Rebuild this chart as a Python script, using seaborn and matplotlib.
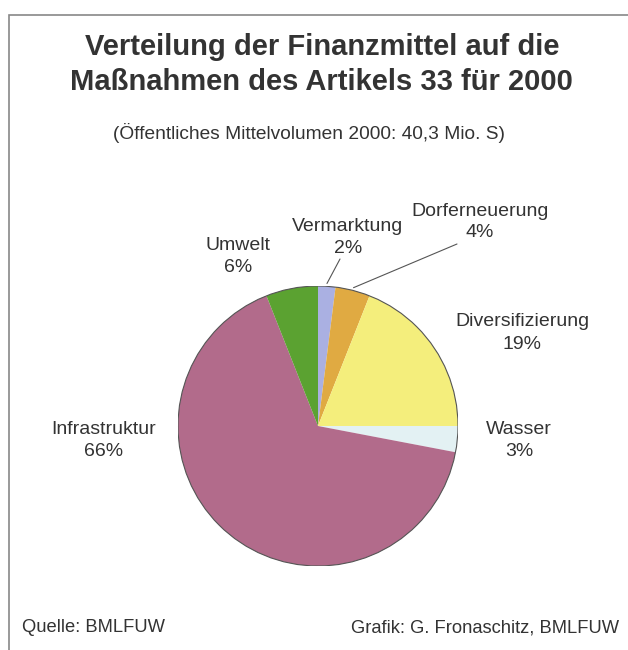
import numpy as np
import matplotlib
matplotlib.use("Agg")
import matplotlib.pyplot as plt
import seaborn as sns
from matplotlib.patches import Rectangle

# data
categories = ["Vermarktung", "Dorferneuerung", "Diversifizierung", "Wasser", "Infrastruktur", "Umwelt"]
shares = [2, 4, 19, 3, 66, 6]
colors = ["#aab0e2", "#e0aa42", "#f4ee7c", "#e3f1f3", "#b26b8b", "#5ba231"]

sns.set_theme(style="white")
plt.rcParams['font.family'] = ['Liberation Sans', 'DejaVu Sans']

W, H = 628, 650
fig = plt.figure(figsize=(W / 100, H / 100), dpi=100)
fig.patch.set_facecolor("white")

# pie position in pixels
cx, cy, r = 318, 426, 140
ax = fig.add_axes([(cx - r) / W, (H - cy - r) / H, 2 * r / W, 2 * r / H])
wedges, _ = ax.pie(shares, colors=colors, startangle=90, counterclock=False,
                   wedgeprops=dict(linewidth=0))
# outer outline
circ = plt.Circle((0, 0), 1, fill=False, edgecolor="#555555", linewidth=0.8)
ax.add_patch(circ)
ax.set_xlim(-1, 1)
ax.set_ylim(-1, 1)
ax.set_aspect("equal")
ax.axis("off")


def px(x, y):
    return x / W, 1 - y / H


txt = "#333333"
# frame
fig.patches.append(Rectangle(px(9, 700), 700 / W, (700 - 15) / H, transform=fig.transFigure,
                             fill=False, edgecolor="#888888", linewidth=1.2))

fig.text(*px(322, 47), "Verteilung der Finanzmittel auf die", ha="center", va="center",
         fontsize=21, fontweight="bold", color=txt)
fig.text(*px(321, 82), "Maßnahmen des Artikels 33 für 2000", ha="center", va="center",
         fontsize=21, fontweight="bold", color=txt)
fig.text(*px(309, 133), "(Öffentliches Mittelvolumen 2000: 40,3 Mio. S)", ha="center", va="center",
         fontsize=13.8, color=txt)

label_pos = {
    "Vermarktung": (348, 226),
    "Dorferneuerung": (480, 211),
    "Diversifizierung": (522, 322),
    "Wasser": (519, 429),
    "Infrastruktur": (104, 429),
    "Umwelt": (238, 246),
}
for name, val in zip(categories, shares):
    x, y = label_pos[name]
    fig.text(*px(x, y), name, ha="center", va="center", fontsize=14, color=txt)
    fig.text(*px(x, y + 22), f"{val}%", ha="center", va="center", fontsize=14, color=txt)

# leader lines to wedge edges
leaders = {"Vermarktung": (340, 259), "Dorferneuerung": (457, 244)}
for w, name in zip(wedges, categories):
    if name in leaders:
        ang = np.deg2rad((w.theta1 + w.theta2) / 2)
        ex, ey = 1.02 * np.cos(ang), 1.02 * np.sin(ang)
        sx, sy = leaders[name]
        ax.annotate("", xy=(ex, ey), xycoords="data",
                    xytext=px(sx, sy), textcoords="figure fraction", annotation_clip=False,
                    arrowprops=dict(arrowstyle="-", color="#555555", linewidth=0.8,
                                    shrinkA=0, shrinkB=0))

fig.text(*px(22, 628), "Quelle: BMLFUW", ha="left", va="center", fontsize=13.2, color=txt)
fig.text(*px(619, 628), "Grafik: G. Fronaschitz, BMLFUW", ha="right", va="center", fontsize=13.2, color=txt)

fig.savefig("out.png", dpi=100, facecolor="white")
